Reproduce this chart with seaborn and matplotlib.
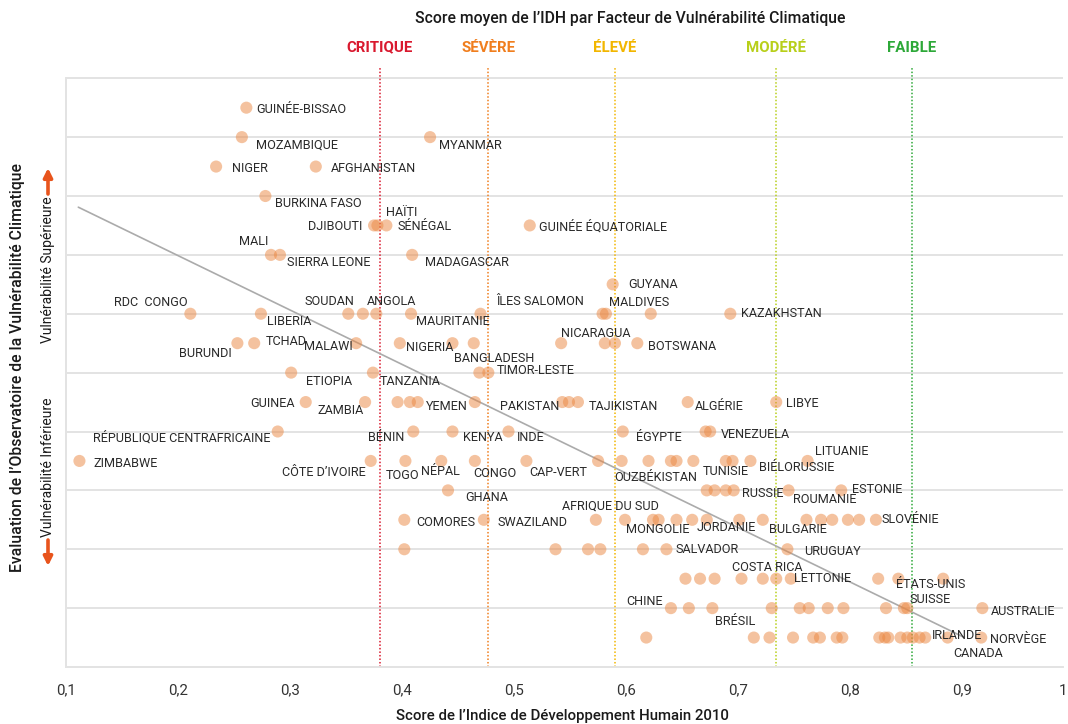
import matplotlib
matplotlib.use("Agg")
import matplotlib.pyplot as plt
import pandas as pd
import seaborn as sns

# ---------------- data ----------------
countries = [
    # 9.5
    "GUINÉE-BISSAO",
    # 9.0
    "MOZAMBIQUE", "MYANMAR",
    # 8.5
    "NIGER", "AFGHANISTAN",
    # 8.0
    "BURKINA FASO",
    # 7.5
    "DJIBOUTI", "HAÏTI", "SÉNÉGAL", "GUINÉE ÉQUATORIALE",
    # 7.0
    "MALI", "SIERRA LEONE", "MADAGASCAR",
    # 6.5
    "GUYANA",
    # 6.0
    "RDC  CONGO", "LIBERIA", "SOUDAN", "", "ANGOLA", "MAURITANIE", "ÎLES SALOMON",
    "MALDIVES", "", "", "KAZAKHSTAN",
    # 5.5
    "BURUNDI", "TCHAD", "MALAWI", "NIGERIA", "", "BANGLADESH", "NICARAGUA", "", "",
    "BOTSWANA",
    # 5.0
    "ETIOPIA", "TANZANIA", "", "TIMOR-LESTE",
    # 4.5
    "GUINEA", "ZAMBIA", "", "", "YEMEN", "PAKISTAN", "", "", "TAJIKISTAN", "ALGÉRIE",
    "LIBYE",
    # 4.0
    "RÉPUBLIQUE CENTRAFRICAINE", "BÉNIN", "KENYA", "INDE", "ÉGYPTE", "", "VENEZUELA",
    # 3.5
    "ZIMBABWE", "CÔTE D’IVOIRE", "TOGO", "NÉPAL", "CONGO", "CAP-VERT", "", "OUZBÉKISTAN",
    "", "", "", "", "TUNISIE", "", "BIÉLORUSSIE", "LITUANIE",
    # 3.0
    "GHANA", "", "", "", "RUSSIE", "ROUMANIE", "ESTONIE",
    # 2.5
    "COMORES", "SWAZILAND", "AFRIQUE DU SUD", "MONGOLIE", "", "", "", "JORDANIE", "", "",
    "BULGARIE", "", "", "", "", "", "SLOVÉNIE",
    # 2.0
    "", "", "", "", "", "SALVADOR", "URUGUAY",
    # 1.5
    "", "", "", "", "COSTA RICA", "", "LETTONIE", "", "ÉTATS-UNIS", "",
    # 1.0
    "CHINE", "", "", "BRÉSIL", "", "", "", "", "", "", "SUISSE", "AUSTRALIE",
    # 0.5
    "", "", "", "", "", "", "", "", "", "", "", "", "", "", "", "IRLANDE", "CANADA",
    "NORVÈGE",
]

hdi = [
    0.261,
    0.257, 0.425,
    0.234, 0.323,
    0.278,
    0.375, 0.378, 0.386, 0.514,
    0.283, 0.291, 0.409,
    0.588,
    0.211, 0.274, 0.352, 0.365, 0.377, 0.408, 0.470, 0.579, 0.582, 0.622, 0.693,
    0.253, 0.268, 0.359, 0.398, 0.445, 0.464, 0.542, 0.581, 0.590, 0.610,
    0.301, 0.374, 0.469, 0.477,
    0.314, 0.367, 0.396, 0.407, 0.414, 0.465, 0.543, 0.549, 0.557, 0.655, 0.734,
    0.289, 0.410, 0.445, 0.495, 0.597, 0.671, 0.675,
    0.112, 0.372, 0.403, 0.435, 0.465, 0.511, 0.575, 0.596, 0.620, 0.640, 0.645, 0.660,
    0.689, 0.695, 0.711, 0.762,
    0.441, 0.672, 0.679, 0.689, 0.696, 0.745, 0.792,
    0.402, 0.473, 0.573, 0.599, 0.624, 0.629, 0.645, 0.659, 0.672, 0.701, 0.722, 0.761,
    0.774, 0.784, 0.798, 0.808, 0.823,
    0.402, 0.537, 0.566, 0.577, 0.615, 0.636, 0.744,
    0.653, 0.666, 0.679, 0.703, 0.722, 0.734, 0.747, 0.825, 0.843, 0.883,
    0.640, 0.656, 0.677, 0.730, 0.755, 0.763, 0.780, 0.794, 0.832, 0.848, 0.851, 0.918,
    0.618, 0.714, 0.728, 0.749, 0.767, 0.773, 0.788, 0.793, 0.826, 0.831, 0.834, 0.845,
    0.851, 0.856, 0.862, 0.867, 0.887, 0.917,
]

vulnerability = (
    [9.5]
    + [9.0] * 2
    + [8.5] * 2
    + [8.0]
    + [7.5] * 4
    + [7.0] * 3
    + [6.5]
    + [6.0] * 11
    + [5.5] * 10
    + [5.0] * 4
    + [4.5] * 11
    + [4.0] * 7
    + [3.5] * 16
    + [3.0] * 7
    + [2.5] * 17
    + [2.0] * 7
    + [1.5] * 10
    + [1.0] * 12
    + [0.5] * 18
)

category_names = ["CRITIQUE", "SÉVÈRE", "ÉLEVÉ", "MODÉRÉ", "FAIBLE"]
category_mean_hdi = [0.380, 0.477, 0.590, 0.734, 0.855]

trend_hdi = [0.111, 0.901]
trend_vuln = [7.81, 0.51]

xtick_values = [0.1, 0.2, 0.3, 0.4, 0.5, 0.6, 0.7, 0.8, 0.9, 0.99]
xtick_labels = ["0,1", "0,2", "0,3", "0,4", "0,5", "0,6", "0,7", "0,8", "0,9", "1"]

# ---------------- style / layout ----------------
category_colors = ["#D9192E", "#F07E1E", "#F2B600", "#B8CF1A", "#2DA838"]
W, H = 1068, 724

# label offsets in image pixels (dx, dy down), alignment
label_layout = {
    "GUINÉE-BISSAO": (10, 2, "left"), "MOZAMBIQUE": (14, 8, "left"),
    "MYANMAR": (9, 8, "left"), "NIGER": (16, 2, "left"),
    "AFGHANISTAN": (15, 2, "left"), "BURKINA FASO": (10, 7, "left"),
    "DJIBOUTI": (-12, 1, "right"), "HAÏTI": (9, -13, "left"),
    "SÉNÉGAL": (11, 1, "left"), "GUINÉE ÉQUATORIALE": (9, 1, "left"),
    "MALI": (-3, -13, "right"), "SIERRA LEONE": (7, 8, "left"),
    "MADAGASCAR": (13, 8, "left"), "GUYANA": (16, 0, "left"),
    "RDC  CONGO": (-3, -11, "right"), "LIBERIA": (6, 8, "left"),
    "SOUDAN": (6, -12, "right"), "ANGOLA": (-9, -12, "left"),
    "MAURITANIE": (5, 8, "left"), "ÎLES SALOMON": (16, -12, "left"),
    "MALDIVES": (6, -11, "left"), "KAZAKHSTAN": (11, 0, "left"),
    "BURUNDI": (-6, 10, "right"), "TCHAD": (12, -2, "left"),
    "MALAWI": (-3, 3, "right"), "NIGERIA": (6, 4, "left"),
    "BANGLADESH": (-20, 15, "left"), "NICARAGUA": (0, -10, "left"),
    "BOTSWANA": (11, 3, "left"), "ETIOPIA": (15, 9, "left"),
    "TANZANIA": (7, 9, "left"), "TIMOR-LESTE": (8, -2, "left"),
    "GUINEA": (-11, 1, "right"), "ZAMBIA": (-1, 8, "right"),
    "YEMEN": (8, 4, "left"), "PAKISTAN": (25, 4, "left"),
    "TAJIKISTAN": (11, 4, "left"), "ALGÉRIE": (7, 4, "left"),
    "LIBYE": (10, 1, "left"), "RÉPUBLIQUE CENTRAFRICAINE": (-7, 6, "right"),
    "BÉNIN": (-9, 6, "right"), "KENYA": (11, 6, "left"),
    "INDE": (8, 6, "left"), "ÉGYPTE": (13, 6, "left"),
    "VENEZUELA": (11, 3, "left"), "ZIMBABWE": (14, 3, "left"),
    "CÔTE D’IVOIRE": (-5, 12, "right"), "TOGO": (-20, 15, "left"),
    "NÉPAL": (-20, 11, "left"), "CONGO": (-2, 13, "left"),
    "CAP-VERT": (3, 12, "left"), "OUZBÉKISTAN": (-7, 17, "left"),
    "TUNISIE": (-23, 11, "left"), "BIÉLORUSSIE": (9, 7, "left"),
    "LITUANIE": (7, -9, "left"), "GHANA": (17, 7, "left"),
    "RUSSIE": (8, 3, "left"), "ROUMANIE": (4, 9, "left"),
    "ESTONIE": (11, -1, "left"), "COMORES": (12, 3, "left"),
    "SWAZILAND": (14, 3, "left"), "AFRIQUE DU SUD": (-34, -14, "left"),
    "MONGOLIE": (1, 10, "left"), "JORDANIE": (4, 8, "left"),
    "BULGARIE": (6, 10, "left"), "SLOVÉNIE": (6, 0, "left"),
    "SALVADOR": (9, 0, "left"), "URUGUAY": (17, 2, "left"),
    "COSTA RICA": (-31, -11, "left"), "LETTONIE": (3, 0, "left"),
    "ÉTATS-UNIS": (-2, 6, "left"), "CHINE": (-8, -7, "right"),
    "BRÉSIL": (-16, 13, "right"), "SUISSE": (2, -9, "left"),
    "AUSTRALIE": (9, 3, "left"), "IRLANDE": (7, -2, "left"),
    "CANADA": (6, 16, "left"), "NORVÈGE": (9, 2, "left"),
}

sns.set_theme(style="white")
plt.rcParams["font.family"] = ["Roboto", "DejaVu Sans"]

df = pd.DataFrame({"pays": countries, "idh": hdi, "vuln": vulnerability})

fig = plt.figure(figsize=(W / 100, H / 100), dpi=100)
ax = fig.add_axes([66 / W, 57 / H, 997 / W, 607 / H])

grid_color = "#E3E3E3"
ax.set_xlim(0.1, 0.99)
ax.set_ylim(0, 10.31)
ax.set_yticks(range(11))
ax.yaxis.grid(True, color=grid_color, lw=1.4, zorder=0)
ax.xaxis.grid(False)
ax.tick_params(axis="y", length=5, width=1.4, color=grid_color, labelleft=False)
ax.set_xticks(xtick_values)
ax.set_xticklabels(xtick_labels, fontsize=10.8, color="#333333")
ax.tick_params(axis="x", length=0, pad=12)
for side in ["top", "right"]:
    ax.spines[side].set_visible(False)
ax.spines["left"].set_color(grid_color)
ax.spines["left"].set_linewidth(1.4)
ax.spines["left"].set_bounds(0, 10)
ax.spines["bottom"].set_color(grid_color)
ax.spines["bottom"].set_linewidth(1.4)

# category mean lines
for name, xv, c in zip(category_names, category_mean_hdi, category_colors):
    ax.vlines(xv, 0, 10.17, colors=c, linestyles=(0, (1, 1.3)), lw=1.1, zorder=1)
    ax.text(xv, 10.52, name, color=c, ha="center", va="center", fontsize=10.8,
            fontweight="semibold", clip_on=False)

# trend line
sns.lineplot(x=trend_hdi, y=trend_vuln, color="#ABABAB", lw=1.2, ax=ax, zorder=2)

# points
sns.scatterplot(data=df, x="idh", y="vuln", color="#EB8741", alpha=0.5, s=76,
                edgecolor="none", linewidth=0, ax=ax, zorder=3, legend=False)
ax.set_xlabel("")
ax.set_ylabel("")

for name, xv, yv in zip(countries, hdi, vulnerability):
    if not name:
        continue
    dx, dy, ha = label_layout[name]
    ax.annotate(name, (xv, yv), xytext=(dx, -dy), textcoords="offset pixels",
                ha=ha, va="center", fontsize=9.1, color="#2A2A2A", zorder=4)

# titles
fig.text(630 / W, 1 - 19 / H,
         "Score moyen de l’IDH par Facteur de Vulnérabilité Climatique",
         ha="center", va="center", fontsize=11.3, fontweight="medium", color="#1A1A1A")
fig.text(562 / W, 1 - 716 / H, "Score de l’Indice de Développement Humain 2010",
         ha="center", va="center", fontsize=10.8, fontweight="medium", color="#1A1A1A")
fig.text(18 / W, 1 - 367 / H,
         "Evaluation de l’Observatoire de la Vulnérabilité Climatique",
         ha="center", va="center", rotation=90, fontsize=11.3, fontweight="medium",
         color="#1A1A1A")
fig.text(48 / W, 1 - 270 / H, "Vulnérabilité Supérieure", ha="center", va="center",
         rotation=90, fontsize=10, color="#1A1A1A")
fig.text(48 / W, 1 - 467 / H, "Vulnérabilité Inférieure", ha="center", va="center",
         rotation=90, fontsize=10, color="#1A1A1A")

arrow_color = "#E8541C"
ax.annotate("", xy=(48, H - 168), xytext=(48, H - 194), xycoords="figure pixels",
            textcoords="figure pixels",
            arrowprops=dict(arrowstyle="-|>", color=arrow_color, lw=2.6,
                            mutation_scale=13, shrinkA=0, shrinkB=0))
ax.annotate("", xy=(48, H - 566), xytext=(48, H - 540), xycoords="figure pixels",
            textcoords="figure pixels",
            arrowprops=dict(arrowstyle="-|>", color=arrow_color, lw=2.6,
                            mutation_scale=13, shrinkA=0, shrinkB=0))

fig.savefig("out.png", dpi=100)
